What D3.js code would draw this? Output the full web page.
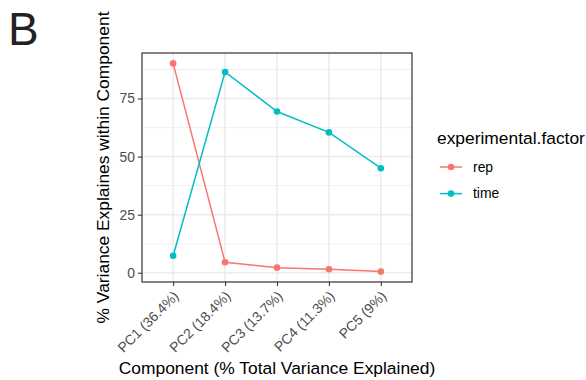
<!DOCTYPE html>
<html>
<head>
<meta charset="utf-8">
<script src="https://cdn.jsdelivr.net/npm/d3@7"></script>
<style>
  body { margin: 0; background: #fff; }
  text { font-family: "Liberation Sans", Arial, sans-serif; }
</style>
</head>
<body>
<svg id="chart" width="586" height="380"></svg>
<script>
// data
var components = ["PC1 (36.4%)", "PC2 (18.4%)", "PC3 (13.7%)", "PC4 (11.3%)", "PC5 (9%)"];
var factors = ["rep", "time"];
var repVals = [90.1, 4.5, 2.2, 1.5, 0.5];
var timeVals = [7.3, 86.4, 69.4, 60.4, 45.0];
var yTicks = [0, 25, 50, 75];
var yMinor = [12.5, 37.5, 62.5, 87.5];
var colors = ["#F8766D", "#00BFC4"];

var series = [
  { name: factors[0], values: repVals, color: colors[0] },
  { name: factors[1], values: timeVals, color: colors[1] }
];

var svg = d3.select("#chart");
var margin = { left: 142, right: 412, top: 53, bottom: 282 };
var tickFont = "13.9px", titleFont = "17.4px";

var x = d3.scaleLinear()
  .domain([0.4, components.length + 0.6])
  .range([margin.left, margin.right]);

var allVals = repVals.concat(timeVals);
var ymin = d3.min(allVals), ymax = d3.max(allVals), pad = (ymax - ymin) * 0.05;
var y = d3.scaleLinear()
  .domain([ymin - pad, ymax + pad])
  .range([margin.bottom, margin.top]);

// panel
svg.append("rect")
  .attr("x", margin.left).attr("y", margin.top)
  .attr("width", margin.right - margin.left).attr("height", margin.bottom - margin.top)
  .attr("fill", "#fff");

var grid = svg.append("g");
grid.selectAll(".minor")
  .data(yMinor)
  .enter().append("line")
  .attr("x1", margin.left).attr("x2", margin.right)
  .attr("y1", function(d) { return y(d); }).attr("y2", function(d) { return y(d); })
  .attr("stroke", "#ebebeb").attr("stroke-width", 0.8);
grid.selectAll(".major")
  .data(yTicks)
  .enter().append("line")
  .attr("x1", margin.left).attr("x2", margin.right)
  .attr("y1", function(d) { return y(d); }).attr("y2", function(d) { return y(d); })
  .attr("stroke", "#ebebeb").attr("stroke-width", 1.5);
grid.selectAll(".vmajor")
  .data(components)
  .enter().append("line")
  .attr("y1", margin.top).attr("y2", margin.bottom)
  .attr("x1", function(d, i) { return x(i + 1); }).attr("x2", function(d, i) { return x(i + 1); })
  .attr("stroke", "#ebebeb").attr("stroke-width", 1.5);

// lines + points
var line = d3.line()
  .x(function(d, i) { return x(i + 1); })
  .y(function(d) { return y(d); });

series.forEach(function(s) {
  svg.append("path")
    .datum(s.values)
    .attr("d", line)
    .attr("fill", "none")
    .attr("stroke", s.color)
    .attr("stroke-width", 1.5);
  svg.selectAll(".pt-" + s.name)
    .data(s.values)
    .enter().append("circle")
    .attr("cx", function(d, i) { return x(i + 1); })
    .attr("cy", function(d) { return y(d); })
    .attr("r", 3.3)
    .attr("fill", s.color);
});

// border
svg.append("rect")
  .attr("x", margin.left).attr("y", margin.top)
  .attr("width", margin.right - margin.left).attr("height", margin.bottom - margin.top)
  .attr("fill", "none").attr("stroke", "#333").attr("stroke-width", 1.2);

// y axis
var yAxis = svg.append("g")
  .attr("transform", "translate(" + margin.left + ",0)")
  .call(d3.axisLeft(y).tickValues(yTicks).tickSize(4).tickPadding(3));
yAxis.select(".domain").remove();
yAxis.selectAll("line").attr("stroke", "#333").attr("stroke-width", 1.1);
yAxis.selectAll("text").attr("fill", "#4d4d4d").style("font-size", tickFont)
  .style("font-family", "Liberation Sans, Arial, sans-serif");

// x axis
var xAxis = svg.append("g")
  .attr("transform", "translate(0," + margin.bottom + ")")
  .call(d3.axisBottom(x).tickValues(d3.range(1, components.length + 1))
    .tickFormat(function(d) { return components[d - 1]; }).tickSize(4));
xAxis.select(".domain").remove();
xAxis.selectAll("line").attr("stroke", "#333").attr("stroke-width", 1.1);
xAxis.selectAll("text")
  .attr("fill", "#4d4d4d").style("font-size", tickFont)
  .style("font-family", "Liberation Sans, Arial, sans-serif")
  .attr("text-anchor", "end")
  .attr("y", 0).attr("dy", 0)
  .attr("transform", "translate(6,15) rotate(-45)");

// axis titles
svg.append("text")
  .attr("x", (margin.left + margin.right) / 2)
  .attr("y", 374)
  .attr("text-anchor", "middle")
  .style("font-size", titleFont)
  .text("Component (% Total Variance Explained)");

svg.append("text")
  .attr("transform", "translate(109," + (margin.top + margin.bottom) / 2 + ") rotate(-90)")
  .attr("text-anchor", "middle")
  .style("font-size", titleFont)
  .text("% Variance Explaines within Component");

// panel tag
svg.append("text")
  .attr("x", 8).attr("y", 45)
  .style("font-size", "46px")
  .attr("fill", "#222")
  .text("B");

// legend
var legend = svg.append("g").attr("transform", "translate(437,0)");
legend.append("text")
  .attr("x", 0).attr("y", 144)
  .style("font-size", titleFont)
  .text("experimental.factor");
var keys = legend.selectAll(".key")
  .data(series)
  .enter().append("g")
  .attr("transform", function(d, i) { return "translate(0," + (167 + i * 26.6) + ")"; });
keys.append("line")
  .attr("x1", 3).attr("x2", 25)
  .attr("stroke", function(d) { return d.color; })
  .attr("stroke-width", 1.5);
keys.append("circle")
  .attr("cx", 14).attr("r", 3.3)
  .attr("fill", function(d) { return d.color; });
keys.append("text")
  .attr("x", 36).attr("dy", "0.35em")
  .style("font-size", tickFont)
  .text(function(d) { return d.name; });
</script>
</body>
</html>
